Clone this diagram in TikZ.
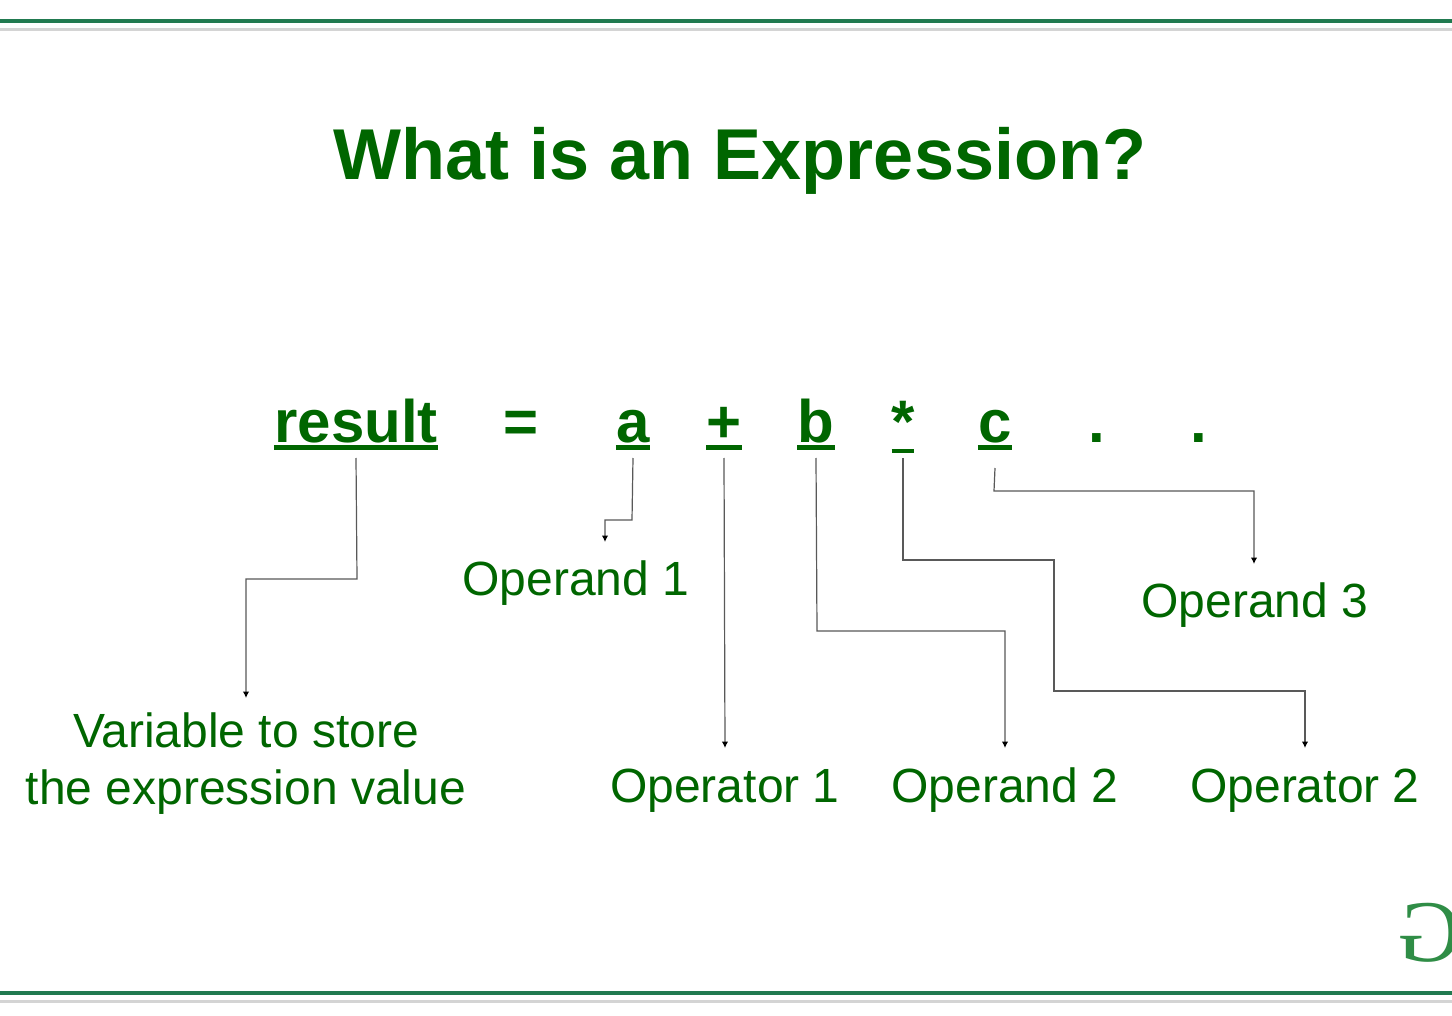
\documentclass[tikz,border=0pt]{standalone}
\usepackage{fontspec}
\setmainfont{Liberation Sans}
\newfontfamily\logofont{Liberation Serif}
\usetikzlibrary{arrows.meta}
\definecolor{txtgreen}{RGB}{0,102,0}
\definecolor{bargreen}{RGB}{33,122,80}
\definecolor{bargray}{RGB}{212,212,212}
\definecolor{logogreen}{RGB}{47,141,70}
\tikzset{
  tok/.style={inner sep=0pt, text=txtgreen, font=\fontsize{30}{36}\selectfont\bfseries},
  lbl/.style={inner sep=0pt, text=txtgreen, font=\fontsize{24}{28.5}\selectfont, align=center},
  uline/.style={draw=txtgreen, line width=2.2pt},
  conn/.style={draw=black!65, line width=0.6pt, -{Latex[length=3.2pt,width=3.2pt,black]}},
}
\begin{document}
\begin{tikzpicture}[x=0.5pt,y=-0.5pt]
\useasboundingbox (0,0) rectangle (1452,1016);
\fill[white] (0,0) rectangle (1452,1016);
% frame bars
\draw[bargreen, line width=2pt] (0,21) -- (1452,21);
\draw[bargray, line width=1.6pt] (0,29.5) -- (1452,29.5);
\draw[bargreen, line width=2pt] (0,993) -- (1452,993);
\draw[bargray, line width=1.6pt] (0,1001.5) -- (1452,1001.5);
% title
\node[anchor=base, text=txtgreen, font=\fontsize{36}{42}\selectfont\bfseries] (title) at (740,180) {What is an Expression?};
% tokens
\node[tok, anchor=base] (res) at (356,443) {result};
\node[tok, anchor=base] (eq) at (521,443) {=};
\node[tok, anchor=base] (ta) at (633,443) {a};
\node[tok, anchor=base] (tp) at (724,443) {+};
\node[tok, anchor=base] (tb) at (816,443) {b};
\node[tok, anchor=base] (ts) at (903,443) {*};
\node[tok, anchor=base] (tc) at (995,443) {c};
\node[tok, anchor=base] (d1) at (1097,443) {.};
\node[tok, anchor=base] (d2) at (1199,443) {.};
% underlines
\foreach \n in {res,ta,tp,tb,tc}
  \draw[uline] ([yshift=-2.3pt]\n.base west) -- ([yshift=-2.3pt]\n.base east);
\draw[uline] ([yshift=-4pt,xshift=-5.7pt]ts.base) -- ([yshift=-4pt,xshift=5.7pt]ts.base);
% labels
\node[lbl, anchor=base] (op1) at (576,595) {Operand 1};
\node[lbl, anchor=base] (op3) at (1255,617) {Operand 3};
\node[lbl, anchor=north] (var) at (246,712) {Variable to store\\the expression value};
\node[lbl, anchor=base] (opr1) at (725,802) {Operator 1};
\node[lbl, anchor=base] (op2) at (1005,802) {Operand 2};
\node[lbl, anchor=base] (opr2) at (1305,802) {Operator 2};
% arrow tips
\coordinate (tipVar) at (246,698);
\coordinate (tipOp1) at (605,542);
\coordinate (tipOpr1) at (725,748);
\coordinate (tipOp2) at (1005,748);
\coordinate (tipOpr2) at (1305,748);
\coordinate (tipOp3) at (1254,564);
% connectors
\draw[conn] ([yshift=-7.5pt]res.base) -- (357,579) -- (246,579) -- (tipVar);
\draw[conn] ([yshift=-7.5pt]ta.base) -- (632,520) -- (605,520) -- (tipOp1);
\draw[conn] ([yshift=-7.5pt]tp.base) -- (tipOpr1);
\draw[conn] ([yshift=-7.5pt]tb.base) -- (817,631) -- (1005,631) -- (tipOp2);
\draw[conn] ([yshift=-7.5pt]ts.base) -- (903,560) -- (1054,560) -- (1054,691) -- (1305,691) -- (tipOpr2);
\draw[conn] ([yshift=-12.5pt]tc.base) -- (994,491) -- (1254,491) -- (tipOp3);
% logo fragment
\begin{scope}
\clip (0,0) rectangle (1452,1016);
\node[inner sep=0pt, anchor=base, xscale=-1, text=logogreen, font=\fontsize{44}{44}\selectfont\logofont] (logo) at (1430,961) {G};
\end{scope}
\end{tikzpicture}
\end{document}
